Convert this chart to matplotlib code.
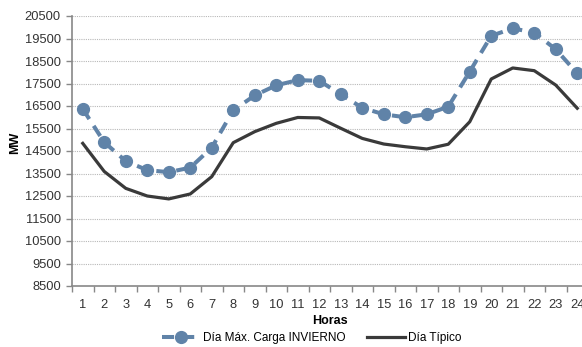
import matplotlib
matplotlib.use("Agg")
import matplotlib.pyplot as plt
from matplotlib.ticker import FixedLocator, NullFormatter

plt.rcParams['font.family'] = ['Liberation Sans', 'DejaVu Sans']

horas = list(range(1, 25))
dia_max_invierno = [16370, 14890, 14050, 13650, 13560, 13760, 14650, 16310,
                    16970, 17420, 17650, 17620, 17020, 16420, 16130, 16000,
                    16130, 16470, 18030, 19620, 19950, 19760, 19020, 17950]
dia_tipico = [14840, 13590, 12840, 12500, 12370, 12590, 13360, 14870,
              15360, 15730, 15990, 15970, 15510, 15060, 14810, 14690,
              14590, 14800, 15800, 17700, 18190, 18070, 17430, 16400]
y_ticks = list(range(8500, 21500, 1000))

fig = plt.figure(figsize=(5.82, 3.47), dpi=100)
ax = fig.add_axes([72 / 582, 61 / 347, 516 / 582, 270 / 347])

l1, = ax.plot(horas, dia_max_invierno, color='#6083a8', lw=2.9,
              dashes=(3, 2), marker='o', markersize=8.5,
              markerfacecolor='#6083a8', markeredgecolor='#6083a8',
              label='Día Máx. Carga INVIERNO', zorder=3)
l2, = ax.plot(horas, dia_tipico, color='#3a3a3a', lw=2.3,
              label='Día Típico', zorder=3)

ax.set_xlim(0.5, 24.5)
ax.set_ylim(8500, 20500)
ax.set_yticks(y_ticks)
ax.set_yticklabels([str(v) for v in y_ticks], fontsize=9.3, color='#333333')
ax.set_xticks(horas)
ax.set_xticklabels([str(h) for h in horas], fontsize=9.3, color='#333333')
ax.tick_params(axis='x', length=0, pad=9)
ax.xaxis.set_minor_locator(FixedLocator([h + 0.5 for h in range(0, 25)]))
ax.xaxis.set_minor_formatter(NullFormatter())
ax.tick_params(axis='x', which='minor', length=4, color='#888888', width=1)
ax.tick_params(axis='y', length=4, color='#888888', width=1, pad=4)

ax.grid(axis='y', color='#b8b8b8', linestyle=(0, (1, 1)), linewidth=0.8, zorder=0)
for side in ('top', 'right'):
    ax.spines[side].set_visible(False)
for side in ('left', 'bottom'):
    ax.spines[side].set_color('#888888')
    ax.spines[side].set_linewidth(1.2)

ax.set_xlabel('Horas', fontsize=9, fontweight='bold', labelpad=3)
ax.set_ylabel('MW', fontsize=9, fontweight='bold', labelpad=1)
ax.yaxis.set_label_coords(-0.098, 0.53)

fig.legend(handles=[l1, l2], loc='center', bbox_to_anchor=(312 / 582, 1 - 338 / 347),
           ncol=2, frameon=False, fontsize=8.5, handlelength=3.2,
           columnspacing=1.8, handletextpad=0.3)

fig.savefig('out.png', dpi=100)
